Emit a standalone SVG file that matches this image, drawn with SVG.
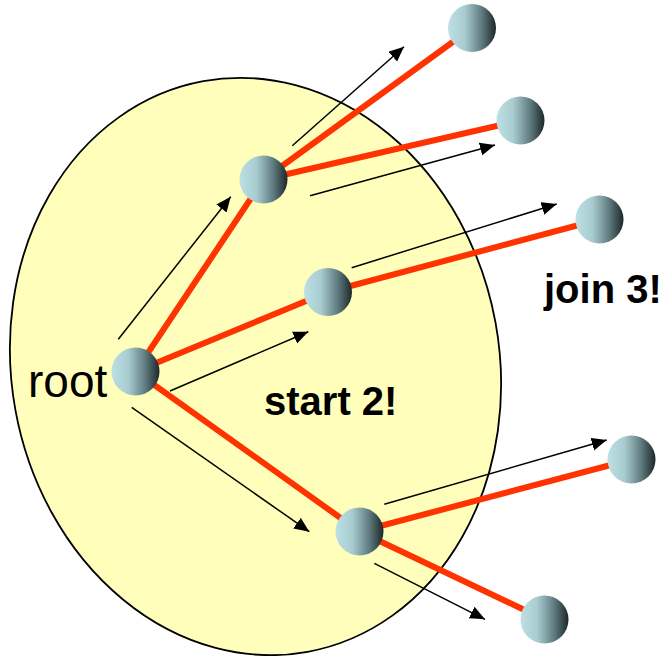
<svg xmlns="http://www.w3.org/2000/svg" width="670" height="656" viewBox="0 0 670 656">
  <defs>
    <linearGradient id="ball" x1="0" y1="0" x2="1" y2="0">
      <stop offset="0" stop-color="#bde0e5"/>
      <stop offset="0.35" stop-color="#a9ccd1"/>
      <stop offset="0.7" stop-color="#607c80"/>
      <stop offset="1" stop-color="#1c2729"/>
    </linearGradient>
    <marker id="arr" markerUnits="userSpaceOnUse" markerWidth="16" markerHeight="14" refX="15" refY="6.5" orient="auto">
      <path d="M0,0 L15,6.5 L0,13 z" fill="#000"/>
    </marker>
    <style>
      .edge { stroke: #ff3300; stroke-width: 6; fill: none; }
      .arrow { stroke: #000; stroke-width: 1.5; fill: none; marker-end: url(#arr); }
      .node circle { fill: url(#ball); }
      .lbl { font-family: "Liberation Sans", Arial, sans-serif; fill: #000; }
      .bold { font-weight: bold; font-size: 40px; }
    </style>
  </defs>
  <rect width="670" height="656" fill="#fff"/>
  <g id="region">
    <ellipse cx="255.5" cy="366.5" rx="244" ry="290" transform="rotate(-10.35 255.5 366.5)" fill="#ffffbb" stroke="#000" stroke-width="1.8"/>
  </g>
  <g id="connectors">
    <line class="edge" x1="135.5" y1="371.5" x2="263.5" y2="179.5"/>
    <line class="edge" x1="135.5" y1="371.5" x2="328" y2="292"/>
    <line class="edge" x1="135.5" y1="371.5" x2="359.5" y2="531.5"/>
    <line class="edge" x1="263.5" y1="179.5" x2="472" y2="28"/>
    <line class="edge" x1="263.5" y1="179.5" x2="520.5" y2="120.5"/>
    <line class="edge" x1="328" y1="292" x2="599.5" y2="219.5"/>
    <line class="edge" x1="359.5" y1="531.5" x2="631.5" y2="459.5"/>
    <line class="edge" x1="359.5" y1="531.5" x2="544.5" y2="619.5"/>
    <line class="arrow" x1="118.3" y1="339.3" x2="230.7" y2="196.7"/>
    <line class="arrow" x1="170" y1="391" x2="308.3" y2="331.7"/>
    <line class="arrow" x1="131.7" y1="407.3" x2="309.3" y2="531.7"/>
    <line class="arrow" x1="292.3" y1="145.7" x2="404" y2="46.7"/>
    <line class="arrow" x1="310" y1="195.7" x2="495" y2="145"/>
    <line class="arrow" x1="351.7" y1="267.7" x2="556.7" y2="204"/>
    <line class="arrow" x1="384.3" y1="504.3" x2="606.7" y2="440"/>
    <line class="arrow" x1="374.3" y1="563.3" x2="485" y2="619.3"/>
  </g>
  <g id="root" class="node"><circle cx="135.5" cy="371.5" r="24"/></g>
  <g id="n1" class="node"><circle cx="263.5" cy="179.5" r="24"/></g>
  <g id="n2" class="node"><circle cx="328" cy="292" r="24"/></g>
  <g id="n3" class="node"><circle cx="359.5" cy="531.5" r="24"/></g>
  <g id="leafA" class="node"><circle cx="472" cy="28" r="24"/></g>
  <g id="leafB" class="node"><circle cx="520.5" cy="120.5" r="24"/></g>
  <g id="leafC" class="node"><circle cx="599.5" cy="219.5" r="24"/></g>
  <g id="leafD" class="node"><circle cx="631.5" cy="459.5" r="24"/></g>
  <g id="leafE" class="node"><circle cx="544.5" cy="619.5" r="24"/></g>
  <g id="labels">
    <text class="lbl" x="28" y="397" font-size="46">root</text>
    <text class="lbl bold" x="264" y="415">start 2!</text>
    <text class="lbl bold" x="544" y="303">join 3!</text>
  </g>
</svg>
